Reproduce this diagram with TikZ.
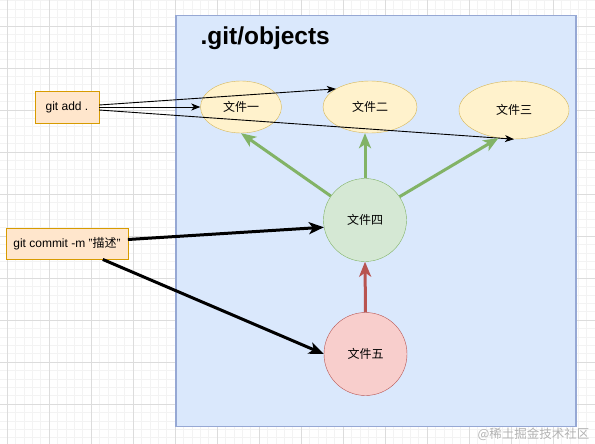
\documentclass[tikz,border=0pt]{standalone}
\usepackage{fontspec}
\setmainfont{Liberation Sans}
\newfontfamily\cjk{Noto Sans CJK SC}
\usepackage{tikz}
\usetikzlibrary{shapes.geometric, arrows.meta}
\definecolor{gridmajor}{RGB}{220,220,220}
\definecolor{gridminor}{RGB}{243,243,243}
\definecolor{objfill}{HTML}{DAE8FC}
\definecolor{objline}{RGB}{150,168,212}
\definecolor{cmdfill}{HTML}{FFE6CC}
\definecolor{cmdline}{HTML}{D79B00}
\definecolor{filefill}{HTML}{FFF2CC}
\definecolor{fileline}{HTML}{D6B656}
\definecolor{treefill}{HTML}{D5E8D4}
\definecolor{treeline}{HTML}{82B366}
\definecolor{commitfill}{HTML}{F8CECC}
\definecolor{commitline}{HTML}{B85450}

\begin{document}
\begin{tikzpicture}[x=1pt, y=-1pt,
  cmd/.style={draw=cmdline, fill=cmdfill, inner sep=0pt, font=\fontsize{12}{14}\selectfont},
  blob/.style={ellipse, draw=fileline, fill=filefill, inner sep=0pt, font=\cjk\fontsize{12}{14}\selectfont},
  ball/.style={circle, inner sep=0pt, minimum size=83pt, font=\cjk\fontsize{12}{14}\selectfont},
  addline/.style={-{Stealth[length=9pt,width=7pt,inset=2.5pt]}, line width=0.9pt},
  fatline/.style={-{Stealth[length=15pt,width=12pt,inset=4pt]}, line width=3pt}]
  \useasboundingbox (0,0) rectangle (595,444);
  \clip (0,0) rectangle (595,444);
  % background grid
  \foreach \k in {0,...,70} \draw[gridminor, line width=0.6pt] ({7+8.4*\k},0) -- ({7+8.4*\k},444);
  \foreach \k in {-3,...,49} \draw[gridminor, line width=0.6pt] (0,{26+8.4*\k}) -- (595,{26+8.4*\k});
  \foreach \k in {0,...,14} \draw[gridmajor, line width=0.8pt] ({7+42*\k},0) -- ({7+42*\k},444);
  \foreach \k in {0,...,9} \draw[gridmajor, line width=0.8pt] (0,{26+42*\k}) -- (595,{26+42*\k});

  % object store
  \draw[draw=objline, fill=objfill, line width=1.2pt] (176,15.5) rectangle (576,426.5);
  \node[anchor=west, font=\fontsize{24.5}{28}\selectfont\bfseries] (title) at (197,38) {.git/objects};

  \node[cmd, minimum width=64pt, minimum height=31.5pt] (addbox) at (67,107) {git add .};
  \node[cmd, minimum width=121.5pt, minimum height=31.5pt] (commitbox) at (67,243.5) {git commit -m "{\cjk 描述}"};

  \node[blob, minimum width=81pt, minimum height=52pt] (fileone) at (241,107) {文件一};
  \node[blob, minimum width=94pt, minimum height=52pt] (filetwo) at (370,107) {文件二};
  \node[blob, minimum width=110pt, minimum height=58pt] (filethree) at (514,110) {文件三};
  \node[ball, draw=treeline, fill=treefill] (filefour) at (365,220) {文件四};
  \node[ball, draw=commitline, fill=commitfill] (filefive) at (365.5,354) {文件五};

  % git add
  \draw[addline] ([yshift=2pt]addbox.east) -- (filetwo.152);
  \draw[addline] (addbox.east) -- (fileone.west);
  \draw[addline] ([yshift=-3pt]addbox.east) -- (filethree.south);
  % tree -> blobs
  \draw[fatline, treeline] (filefour.145) -- (fileone.south);
  \draw[fatline, treeline] (filefour.north) -- (filefour.north |- filetwo.south);
  \draw[fatline, treeline] (filefour.34) -- (filethree.241);
  \draw[fatline, commitline] (filefive.north) -- (filefour.south);
  % git commit
  \draw[fatline, black] ([yshift=4pt]commitbox.east) -- (filefour.190);
  \draw[fatline, black] (commitbox.-24) -- (filefive.west);

  \node[anchor=east, text=gray!60, font=\cjk\fontsize{12.5}{14}\selectfont] (mark) at (593,434) {@稀土掘金技术社区};
\end{tikzpicture}
\end{document}
